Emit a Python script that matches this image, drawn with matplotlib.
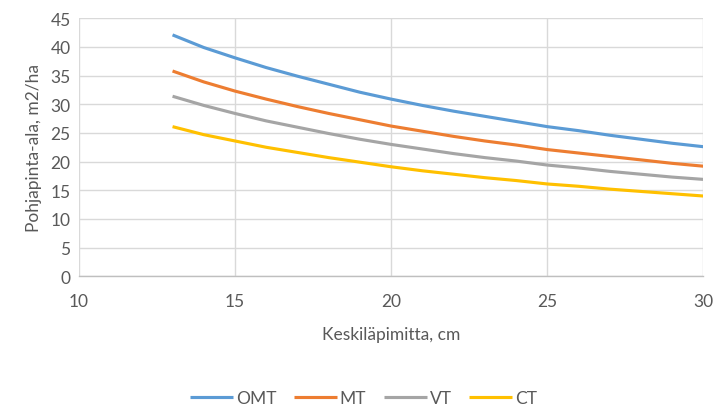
import matplotlib
matplotlib.use("Agg")
import matplotlib.pyplot as plt

# Keskiläpimitta, cm
diam = [13, 14, 15, 16, 17, 18, 19, 20, 21, 22, 23, 24, 25, 26, 27, 28, 29, 30]

# Pohjapinta-ala, m2/ha
omt = [42.1, 39.9, 38.1, 36.4, 34.9, 33.5, 32.1, 30.9, 29.8, 28.8, 27.9, 27.0, 26.1, 25.4, 24.6, 23.9, 23.2, 22.6]
mt = [35.8, 33.9, 32.3, 30.9, 29.6, 28.4, 27.3, 26.2, 25.3, 24.4, 23.6, 22.9, 22.1, 21.5, 20.9, 20.3, 19.7, 19.2]
vt = [31.4, 29.8, 28.4, 27.1, 26.0, 24.9, 23.9, 23.0, 22.2, 21.4, 20.7, 20.1, 19.4, 18.9, 18.3, 17.8, 17.3, 16.9]
ct = [26.1, 24.7, 23.6, 22.5, 21.6, 20.7, 19.9, 19.1, 18.4, 17.8, 17.2, 16.7, 16.1, 15.7, 15.2, 14.8, 14.4, 14.0]

labels = ["OMT", "MT", "VT", "CT"]
colors = ["#5B9BD5", "#ED7D31", "#A5A5A5", "#FFC000"]

plt.rcParams["font.family"] = ["Lato", "DejaVu Sans"]
txt = "#595959"

fig = plt.figure(figsize=(7.17, 4.10), dpi=100)
ax = fig.add_axes([0.110, 0.3237, 0.871, 0.6293])

for ys, lab, col in zip([omt, mt, vt, ct], labels, colors):
    ax.plot(diam, ys, color=col, lw=2.25, label=lab, solid_capstyle="butt")

ax.set_xlim(10, 30)
ax.set_ylim(0, 45)
ax.set_xticks(range(10, 31, 5))
ax.set_yticks(range(0, 46, 5))
ax.grid(True, color="#D9D9D9", lw=1)
ax.set_axisbelow(True)
for s in ["top", "right", "left"]:
    ax.spines[s].set_visible(False)
ax.spines["bottom"].set_color("#BFBFBF")
ax.spines["bottom"].set_linewidth(1)
ax.tick_params(length=0, labelsize=12.5, colors=txt)
ax.tick_params(axis="x", pad=12)
ax.tick_params(axis="y", pad=6)

ax.set_xlabel("Keskiläpimitta, cm", fontsize=12.5, color=txt, labelpad=12)
ax.set_ylabel("Pohjapinta-ala, m2/ha", fontsize=12.5, color=txt, labelpad=6)

fig.legend(loc="center", bbox_to_anchor=(0.507, 0.027), ncol=4, frameon=False,
           fontsize=12.5, labelcolor=txt, handlelength=2.5, handletextpad=0.15,
           columnspacing=1.0)

fig.savefig("out.png", dpi=100)
